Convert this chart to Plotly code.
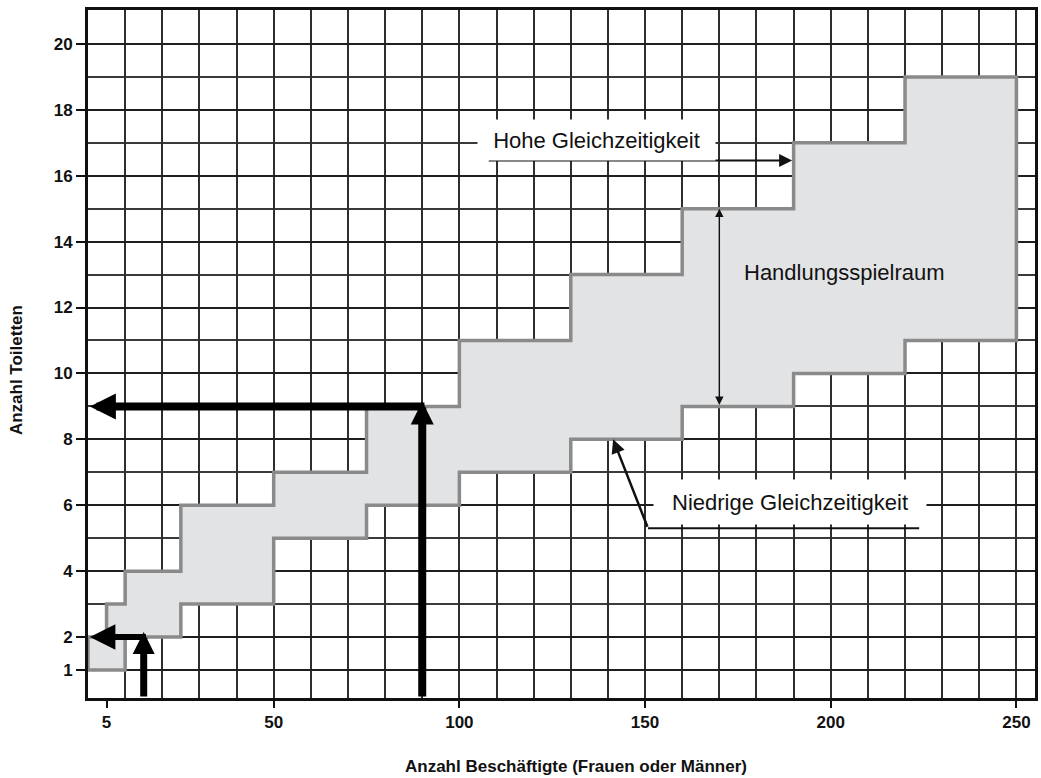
import plotly.graph_objects as go

# ---------------- data ----------------
# staircase bounds of the range of action (x = employees, y = toilets)
x_upper_steps = [0, 5, 10, 25, 50, 75, 100, 130, 160, 190, 220, 250]
y_upper = [2, 3, 4, 6, 7, 9, 11, 13, 15, 17, 19]          # Hohe Gleichzeitigkeit
x_lower_steps = [0, 10, 25, 50, 75, 100, 130, 160, 190, 220, 250]
y_lower = [1, 2, 3, 5, 6, 7, 8, 9, 10, 11]                 # Niedrige Gleichzeitigkeit

x_tickvals = [5, 50, 100, 150, 200, 250]
y_tickvals = [1, 2, 4, 6, 8, 10, 12, 14, 16, 18, 20]

x_range = [0, 255]
y_range = [0.15, 21.03]

# reading examples (employees -> toilets)
example_employees = [15, 90]
example_toilets = [2, 9]

# annotation anchor points
hohe_line_x = [107.5, 189.6]
hohe_line_y = 16.46
hohe_text_pos = (136.9, 17.07)
spiel_x = 170
spiel_y = [9.0, 15.0]
spiel_text_pos = (203.7, 13.05)
nied_tip = (141.4, 8.0)
nied_corner = (150.8, 5.3)
nied_end_x = 223.8
nied_text_pos = (189.0, 6.09)


def step_path(xs, ys):
    px, py = [], []
    for i, y in enumerate(ys):
        px += [xs[i], xs[i + 1]]
        py += [y, y]
    return px, py


ux, uy = step_path(x_upper_steps, y_upper)
lx, ly = step_path(x_lower_steps, y_lower)
poly_x = ux + lx[::-1] + [ux[0]]
poly_y = uy + ly[::-1] + [uy[0]]

fig = go.Figure()
fig.add_trace(go.Scatter(
    x=poly_x, y=poly_y, mode="lines", fill="toself",
    fillcolor="#e2e3e5", line=dict(color="#8a8a8a", width=3.5),
    hoverinfo="skip"))
# dummy trace so the labelled overlay axis is drawn
fig.add_trace(go.Scatter(x=[x_range[0]], y=[y_range[0]], xaxis="x2",
                         mode="markers", marker=dict(opacity=0),
                         hoverinfo="skip"))

TXT = "Liberation Sans, Arial, sans-serif"
NARROW = "Liberation Sans Narrow, Arial Narrow, Liberation Sans, Arial, sans-serif"

fig.update_layout(
    width=1041, height=778,
    margin=dict(l=88, r=3, t=10, b=80),
    plot_bgcolor="white", paper_bgcolor="white",
    showlegend=False,
    xaxis=dict(range=x_range, tick0=0, dtick=10, showgrid=True,
               gridcolor="#2e2e2e", gridwidth=1.6, showticklabels=False,
               ticks="", zeroline=False, showline=True, linecolor="#111",
               linewidth=2.5, mirror=True),
    xaxis2=dict(overlaying="x", anchor="y", side="bottom", range=x_range,
                tickmode="array", tickvals=x_tickvals, ticks="outside",
                ticklen=9, tickwidth=2, tickcolor="#111", showgrid=False,
                zeroline=False, showline=False,
                tickfont=dict(family=TXT, size=17, color="#111", weight="bold")),
    yaxis=dict(range=y_range, tickmode="array", tickvals=y_tickvals,
               showgrid=True, gridcolor="#1e1e1e", gridwidth=2,
               minor=dict(tick0=0, dtick=1, showgrid=True,
                          gridcolor="#3a3a3a", gridwidth=1.6, ticks=""),
               ticks="outside", ticklen=9, tickwidth=2, tickcolor="#111",
               zeroline=False, showline=True, linecolor="#111",
               linewidth=3, mirror=True,
               tickfont=dict(family=TXT, size=17, color="#111", weight="bold")),
)

ann = []
# thick reading arrows
for i, (ex, ey) in enumerate(zip(example_employees, example_toilets)):
    w = 8 if i == 1 else 7
    hw = 8 if i == 1 else 6
    # vertical from bottom to the staircase
    ann.append(dict(x=ex, y=ey + 0.15, ax=ex, ay=y_range[0], xref="x", yref="y",
                    axref="x", ayref="y", text="", showarrow=True,
                    arrowhead=2, arrowsize=3.0 / w + 0.2, arrowwidth=w,
                    arrowcolor="#000", standoff=0))
    # horizontal to the y axis
    ann.append(dict(x=x_range[0] + 0.5, y=ey, ax=ex + 1, ay=ey, xref="x", yref="y",
                    axref="x", ayref="y", text="", showarrow=True,
                    arrowhead=2, arrowsize=4.8 / hw + 0.05, arrowwidth=hw,
                    arrowcolor="#000", standoff=0))

# Hohe Gleichzeitigkeit
ann.append(dict(x=hohe_line_x[1], y=hohe_line_y, ax=hohe_line_x[0], ay=hohe_line_y,
                xref="x", yref="y", axref="x", ayref="y", text="",
                showarrow=True, arrowhead=2, arrowsize=1.3, arrowwidth=2,
                arrowcolor="#111", standoff=0))
ann.append(dict(x=hohe_text_pos[0], y=hohe_text_pos[1], xref="x", yref="y",
                text="Hohe Gleichzeitigkeit", showarrow=False,
                bgcolor="white", width=235, height=38,
                font=dict(family=TXT, size=22, color="#111")))
# Handlungsspielraum
ann.append(dict(x=spiel_x, y=spiel_y[1], ax=spiel_x, ay=spiel_y[0],
                xref="x", yref="y", axref="x", ayref="y", text="",
                showarrow=True, arrowhead=2, startarrowhead=2,
                arrowside="end+start", arrowsize=1.2, startarrowsize=1.2,
                arrowwidth=1.4, arrowcolor="#111", standoff=0, startstandoff=0))
ann.append(dict(x=spiel_text_pos[0], y=spiel_text_pos[1], xref="x", yref="y",
                text="Handlungsspielraum", showarrow=False,
                font=dict(family=TXT, size=22, color="#111")))
# Niedrige Gleichzeitigkeit
ann.append(dict(x=nied_tip[0], y=nied_tip[1], ax=nied_corner[0], ay=nied_corner[1],
                xref="x", yref="y", axref="x", ayref="y", text="",
                showarrow=True, arrowhead=2, arrowsize=1.1, arrowwidth=2.5,
                arrowcolor="#111", standoff=0))
ann.append(dict(x=nied_text_pos[0], y=nied_text_pos[1], xref="x", yref="y",
                text="Niedrige Gleichzeitigkeit", showarrow=False,
                bgcolor="white", width=270, height=42,
                font=dict(family=TXT, size=22, color="#111")))

# axis titles
ann.append(dict(x=0.515, y=-0.1, xref="paper", yref="paper",
                text="Anzahl Beschäftigte (Frauen oder Männer)", showarrow=False,
                xanchor="center", yanchor="middle",
                font=dict(family=NARROW, size=17, color="#111", weight="bold")))
ann.append(dict(x=-0.0747, y=0.477, xref="paper", yref="paper",
                text="Anzahl Toiletten", showarrow=False, textangle=-90,
                xanchor="center", yanchor="middle",
                font=dict(family=NARROW, size=17, color="#111", weight="bold")))

fig.update_layout(annotations=ann)

fig.add_shape(type="line", x0=nied_corner[0], y0=nied_corner[1],
              x1=nied_end_x, y1=nied_corner[1], xref="x", yref="y",
              line=dict(color="#111", width=2))

fig.write_html(
    "out.html",
    config={"displayModeBar": False},
    post_script="document.body.style.margin='0';document.body.style.overflow='hidden';",
)
